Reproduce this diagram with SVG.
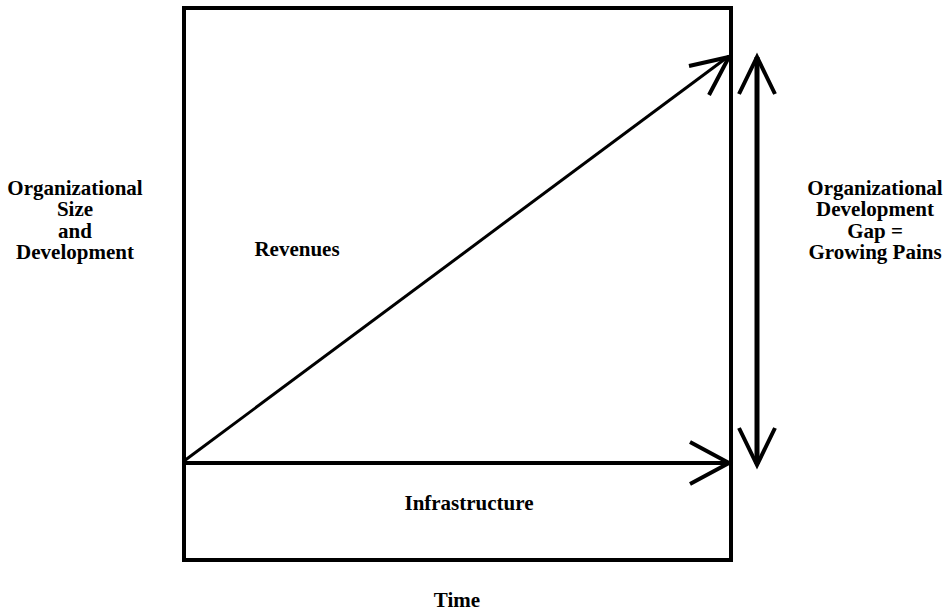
<svg xmlns="http://www.w3.org/2000/svg" width="952" height="612" viewBox="0 0 952 612">
<style>
text{font-family:"Liberation Serif","Times New Roman",serif;font-weight:bold;font-size:21px;fill:#000;text-anchor:middle}
.ln{fill:none;stroke:#000;stroke-linecap:butt;stroke-linejoin:miter}
</style>
<rect width="952" height="612" fill="#fff"/>
<g id="frame"><rect class="ln" x="184" y="8" width="547" height="552" stroke-width="4"/></g>
<g id="connectors">
<line class="ln" x1="184" y1="461" x2="729" y2="56" stroke-width="3"/>
<polyline class="ln" points="689,66 729,57 709,95" stroke-width="4"/>
<line class="ln" x1="184" y1="463" x2="729" y2="463" stroke-width="4"/>
<polyline class="ln" points="690,442 729,463 690,484" stroke-width="4"/>
<line class="ln" x1="757" y1="57" x2="757" y2="464" stroke-width="5"/>
<polyline class="ln" points="739,94 757,57 775,94" stroke-width="4"/>
<polyline class="ln" points="739,428 757,465 775,428" stroke-width="4"/>
</g>
<g id="ylabel"><text x="75" y="195">Organizational</text><text x="75" y="216">Size</text><text x="75" y="238">and</text><text x="75" y="259">Development</text></g>
<g id="gaplabel"><text x="875" y="195">Organizational</text><text x="875" y="216">Development</text><text x="875" y="238">Gap =</text><text x="875" y="259">Growing Pains</text></g>
<g id="revenues"><text x="297" y="256">Revenues</text></g>
<g id="infrastructure"><text x="469" y="510">Infrastructure</text></g>
<g id="time"><text x="457" y="607">Time</text></g>
</svg>
